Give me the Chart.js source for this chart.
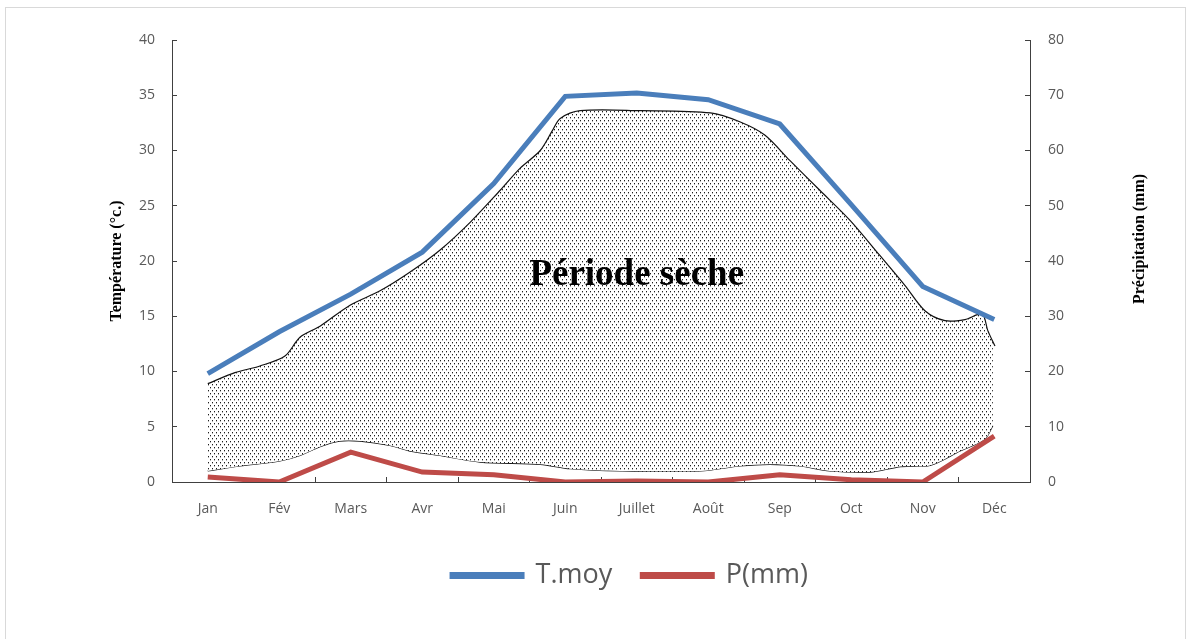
<!DOCTYPE html>
<html>
<head>
<meta charset="utf-8">
<script src="https://cdn.jsdelivr.net/npm/chart.js@4"></script>
<style>
  html, body { margin: 0; padding: 0; background: #fff; }
  #wrap { width: 1192px; height: 639px; }
</style>
</head>
<body>
<div id="wrap"><canvas id="chart" width="1192" height="639"></canvas></div>
<script>
// Months and series
const months = ['Jan', 'Fév', 'Mars', 'Avr', 'Mai', 'Juin', 'Juillet', 'Août', 'Sep', 'Oct', 'Nov', 'Déc'];
const tMoy = [9.8, 13.6, 17.0, 20.8, 27.0, 34.9, 35.2, 34.6, 32.4, 25.1, 17.7, 14.7];
const pMm = [0.9, 0, 5.4, 1.8, 1.3, 0, 0.2, 0, 1.3, 0.4, 0, 8.3];

// Hand drawn "dry period" outline, month index (0 = Jan) and temperature value
const dryTopX = [0, 0.38, 0.73, 1.08, 1.29, 1.57, 1.99, 2.41, 2.83, 3.25, 3.67, 4.09, 4.37, 4.65, 4.82, 4.93, 5.21, 6.05, 7.03, 7.44, 7.79, 8.14, 8.56, 8.98, 9.40, 9.75, 10.03, 10.31, 10.59, 10.83, 10.91, 11.01];
const dryTopY = [8.9, 9.9, 10.5, 11.4, 13.1, 14.1, 16.0, 17.3, 19.0, 21.0, 23.5, 26.4, 28.4, 30.0, 31.8, 32.9, 33.6, 33.6, 33.4, 32.6, 31.4, 29.1, 26.4, 23.7, 20.5, 17.8, 15.5, 14.6, 14.7, 15.2, 13.7, 12.3];
const dryLowX = [0, 0.45, 1.01, 1.29, 1.57, 1.84, 2.13, 2.55, 2.83, 3.25, 3.81, 4.65, 5.07, 5.77, 6.89, 7.44, 7.86, 8.28, 8.70, 9.26, 9.69, 10.1, 10.52, 10.87, 10.98];
const dryLowY = [1.0, 1.45, 1.9, 2.4, 3.2, 3.7, 3.7, 3.3, 2.8, 2.4, 1.8, 1.6, 1.2, 1.0, 1.0, 1.45, 1.6, 1.45, 1.0, 0.9, 1.4, 1.5, 2.8, 3.9, 5.1];

const tempTicks = [0, 5, 10, 15, 20, 25, 30, 35, 40];
const precTicks = [0, 10, 20, 30, 40, 50, 60, 70, 80];

const toPoints = (xs, ys) => xs.map((x, i) => ({ x: x, y: ys[i] }));

// dotted fill
function dotPattern() {
    const c = document.createElement('canvas');
    c.width = 4;
    c.height = 6;
    const g = c.getContext('2d');
    g.fillStyle = '#fff';
    g.fillRect(0, 0, 4, 6);
    g.fillStyle = '#1e1e1e';
    g.fillRect(0, 0, 1, 1);
    g.fillRect(2, 3, 1, 1);
    g.fillStyle = '#b0b0b0';
    g.fillRect(0, 1, 1, 1);
    g.fillRect(2, 4, 1, 1);
    return g.createPattern(c, 'repeat');
}

const ctx = document.getElementById('chart').getContext('2d');
const pattern = dotPattern();

const extras = {
    id: 'extras',
    beforeDraw(chart) {
        const c = chart.ctx;
        c.save();
        c.strokeStyle = '#d9d9d9';
        c.lineWidth = 1;
        c.strokeRect(5.5, 7.5, 1180, 700);
        c.restore();
    },
    afterDatasetsDraw(chart) {
        const c = chart.ctx;
        const xs = chart.scales.xa;
        const y = chart.scales.y;
        const area = chart.chartArea;
        c.save();
        c.fillStyle = '#000';
        c.textAlign = 'center';
        c.textBaseline = 'middle';
        c.font = 'bold 37px "Liberation Serif"';
        c.fillText('Période sèche', xs.getPixelForValue(6), y.getPixelForValue(18.7));

        c.font = 'bold 16px "Liberation Serif"';
        c.translate(117, (area.top + area.bottom) / 2);
        c.rotate(-Math.PI / 2);
        c.fillText('Température (°c.)', 0, 0);
        c.restore();

        c.save();
        c.fillStyle = '#000';
        c.textAlign = 'center';
        c.textBaseline = 'middle';
        c.font = 'bold 16px "Liberation Serif"';
        c.translate(1140, 239);
        c.rotate(-Math.PI / 2);
        c.fillText('Précipitation (mm)', 0, 0);
        c.restore();
    }
};

const tickFont = { family: '"Open Sans"', size: 14 };

new Chart(ctx, {
    type: 'line',
    data: {
        labels: months,
        datasets: [{
            label: 'T.moy',
            data: tMoy,
            borderColor: '#4a7ebb',
            backgroundColor: '#4a7ebb',
            borderWidth: 5,
            pointRadius: 0,
            tension: 0,
            fill: false,
            xAxisID: 'x',
            yAxisID: 'y'
        }, {
            label: 'P(mm)',
            data: pMm,
            borderColor: '#be4b48',
            backgroundColor: '#be4b48',
            borderWidth: 5,
            pointRadius: 0,
            tension: 0,
            fill: false,
            xAxisID: 'x',
            yAxisID: 'y1'
        }, {
            label: 'dryTop',
            data: toPoints(dryTopX, dryTopY),
            borderColor: '#111',
            backgroundColor: pattern,
            borderWidth: 1.2,
            pointRadius: 0,
            tension: 0.3,
            fill: '+1',
            xAxisID: 'xa',
            yAxisID: 'y'
        }, {
            label: 'dryLow',
            data: toPoints(dryLowX, dryLowY),
            borderColor: '#111',
            backgroundColor: pattern,
            borderWidth: 1.2,
            pointRadius: 0,
            tension: 0.3,
            fill: false,
            xAxisID: 'xa',
            yAxisID: 'y'
        }]
    },
    options: {
        responsive: false,
        animation: false,
        layout: {
            padding: { left: 100, right: 32, top: 40, bottom: 40 }
        },
        plugins: {
            legend: {
                position: 'bottom',
                labels: {
                    filter: item => item.text === 'T.moy' || item.text === 'P(mm)',
                    boxWidth: 70,
                    boxHeight: 2,
                    padding: 30,
                    color: '#595959',
                    font: { family: '"Open Sans"', size: 27 }
                }
            },
            tooltip: { enabled: false }
        },
        scales: {
            x: {
                type: 'category',
                offset: true,
                grid: {
                    offset: true,
                    drawOnChartArea: false,
                    tickLength: -5,
                    color: '#404040'
                },
                border: { color: '#404040', width: 1 },
                ticks: { color: '#595959', font: tickFont, padding: 24, maxRotation: 0 },
                afterFit(s) { s.height = 50; }
            },
            xa: {
                type: 'linear',
                min: -0.5,
                max: 11.5,
                display: false
            },
            y: {
                position: 'left',
                min: 0,
                max: 40,
                afterBuildTicks(s) { s.ticks = tempTicks.map(v => ({ value: v })); },
                grid: {
                    drawOnChartArea: false,
                    tickLength: -5,
                    color: '#404040'
                },
                border: { color: '#404040', width: 1 },
                ticks: { color: '#595959', font: tickFont, padding: 22 },
                afterFit(s) { s.width = 72; }
            },
            y1: {
                position: 'right',
                min: 0,
                max: 80,
                afterBuildTicks(s) { s.ticks = precTicks.map(v => ({ value: v })); },
                grid: {
                    drawOnChartArea: false,
                    tickLength: -5,
                    color: '#404040'
                },
                border: { color: '#404040', width: 1 },
                ticks: { color: '#595959', font: tickFont, padding: 23 },
                afterFit(s) { s.width = 130; }
            }
        }
    },
    plugins: [extras]
});
</script>
</body>
</html>
